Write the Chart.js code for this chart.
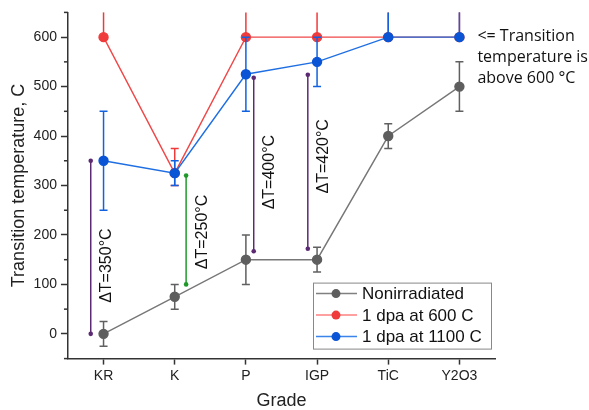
<!DOCTYPE html>
<html>
<head>
<meta charset="utf-8">
<script src="https://cdn.jsdelivr.net/npm/chart.js@4.4.0/dist/chart.umd.min.js"></script>
<style>
html, body { margin: 0; padding: 0; background: #fff; }
#wrap { width: 589px; height: 410px; }
</style>
</head>
<body>
<div id="wrap"><canvas id="chart"></canvas></div>
<script>
const grades = ['KR', 'K', 'P', 'IGP', 'TiC', 'Y2O3'];

const nonirr = [0, 75, 150, 150, 400, 500];
const nonirrErr = [25, 25, 50, 25, 25, 50];

// Infinity = transition temperature above the plotted range (open bar)
const dpa600 = [600, 325, 600, 600, 600, 600];
const dpa600Up = [Infinity, 50, Infinity, Infinity, Infinity, Infinity];
const dpa600Down = [0, 25, 0, 0, 0, 0];

const dpa1100 = [350, 325, 525, 550, 600, 600];
const dpa1100Up = [100, 25, 75, 50, Infinity, Infinity];
const dpa1100Down = [100, 25, 75, 50, 0, 0];

const yTicks = [0, 100, 200, 300, 400, 500, 600];

// delta T markers
const dtX = [-0.18, 1.16, 2.11, 2.87];
const dtFrom = [0, 100, 167, 172];
const dtTo = [350, 320, 518, 524];
const dtLabelY = [138, 206, 327, 359];
const dtLabels = ['\u0394T=350\u00B0C', '\u0394T=250\u00B0C', '\u0394T=400\u00B0C', '\u0394T=420\u00B0C'];
const dtColors = ['#5b2a72', '#1f9a2a', '#5b2a72', '#5b2a72'];

const noteLines = ['<= Transition', 'temperature is', 'above 600 \u00B0C'];

const toPoints = vals => vals.map((v, i) => ({ x: i, y: v }));

const errorBars = {
    id: 'errorBars',
    beforeDatasetDraw(chart, args) {
        const ds = chart.data.datasets[args.index];
        if (!ds.errUp) return;
        const ctx = chart.ctx;
        const area = chart.chartArea;
        const xs = chart.scales.x, ys = chart.scales.y;
        ctx.save();
        ctx.strokeStyle = ds.errColor;
        ctx.lineWidth = 1.5;
        ds.data.forEach((p, i) => {
            const x = xs.getPixelForValue(p.x);
            const up = ds.errUp[i], dn = ds.errDown[i];
            const yTop = isFinite(up) ? ys.getPixelForValue(p.y + up) : area.top;
            const yBot = ys.getPixelForValue(p.y - dn);
            ctx.beginPath();
            ctx.moveTo(x, yTop);
            ctx.lineTo(x, yBot);
            if (isFinite(up) && up > 0) {
                ctx.moveTo(x - 4, yTop);
                ctx.lineTo(x + 4, yTop);
            }
            if (dn > 0) {
                ctx.moveTo(x - 4, yBot);
                ctx.lineTo(x + 4, yBot);
            }
            ctx.stroke();
        });
        ctx.restore();
    }
};

const extras = {
    id: 'extras',
    afterDraw(chart) {
        const ctx = chart.ctx;
        const area = chart.chartArea;
        const xs = chart.scales.x, ys = chart.scales.y;
        ctx.save();

        // minor ticks on y axis
        ctx.strokeStyle = '#333';
        ctx.lineWidth = 1.5;
        for (let v = -50; v <= 650; v += 100) {
            const y = ys.getPixelForValue(v);
            ctx.beginPath();
            ctx.moveTo(area.left - 4, y);
            ctx.lineTo(area.left, y);
            ctx.stroke();
        }

        // delta T arrows
        dtX.forEach((xv, i) => {
            const x = xs.getPixelForValue(xv);
            const y1 = ys.getPixelForValue(dtFrom[i]);
            const y2 = ys.getPixelForValue(dtTo[i]);
            ctx.strokeStyle = dtColors[i];
            ctx.fillStyle = dtColors[i];
            ctx.lineWidth = 1.5;
            ctx.beginPath();
            ctx.moveTo(x, y1);
            ctx.lineTo(x, y2);
            ctx.stroke();
            [y1, y2].forEach(y => {
                ctx.beginPath();
                ctx.arc(x, y, 2.3, 0, Math.PI * 2);
                ctx.fill();
            });
            ctx.save();
            ctx.translate(x + 16, ys.getPixelForValue(dtLabelY[i]));
            ctx.rotate(-Math.PI / 2);
            ctx.fillStyle = '#111';
            ctx.font = '16px "Liberation Sans"';
            ctx.textAlign = 'center';
            ctx.textBaseline = 'middle';
            ctx.fillText(dtLabels[i], 0, 0);
            ctx.restore();
        });

        // note to the right of the top points
        ctx.fillStyle = '#111';
        ctx.font = '16px "Open Sans"';
        ctx.textAlign = 'left';
        ctx.textBaseline = 'middle';
        const nx = xs.getPixelForValue(5) + 18;
        const ny = ys.getPixelForValue(600) - 1;
        noteLines.forEach((t, i) => ctx.fillText(t, nx, ny + i * 21));

        // legend box
        const bw = 178, bh = 66;
        const bx = area.right - 182, by = area.bottom - 76;
        ctx.fillStyle = '#fff';
        ctx.fillRect(bx, by, bw, bh);
        ctx.strokeStyle = '#888';
        ctx.lineWidth = 1;
        ctx.strokeRect(bx + 0.5, by + 0.5, bw, bh);
        chart.data.datasets.forEach((ds, i) => {
            const y = by + 11 + i * 21.5;
            ctx.strokeStyle = ds.legendLine;
            ctx.lineWidth = 1.5;
            ctx.beginPath();
            ctx.moveTo(bx + 3, y);
            ctx.lineTo(bx + 44, y);
            ctx.stroke();
            ctx.fillStyle = ds.pointBackgroundColor;
            ctx.beginPath();
            ctx.arc(bx + 23, y, 4.5, 0, Math.PI * 2);
            ctx.fill();
            ctx.fillStyle = '#111';
            ctx.font = '17px "Liberation Sans"';
            ctx.fillText(ds.label, bx + 49, y + 1);
        });
        ctx.restore();
    }
};

const axisFont = { family: 'Liberation Sans', size: 14 };

new Chart(document.getElementById('chart'), {
    type: 'line',
    data: {
        datasets: [{
            label: 'Nonirradiated',
            data: toPoints(nonirr),
            errUp: nonirrErr,
            errDown: nonirrErr,
            errColor: '#606060',
            legendLine: '#808080',
            borderColor: '#777777',
            pointBackgroundColor: '#5e5e5e',
            pointBorderColor: '#5e5e5e',
            borderWidth: 1.4,
            pointRadius: 4.5,
            order: 2
        }, {
            label: '1 dpa at 600 C',
            data: toPoints(dpa600),
            errUp: dpa600Up,
            errDown: dpa600Down,
            errColor: '#f03a3a',
            legendLine: '#ff8080',
            borderColor: '#f04848',
            pointBackgroundColor: '#ef3b3b',
            pointBorderColor: '#ef3b3b',
            borderWidth: 1.4,
            pointRadius: 4.5,
            order: 1
        }, {
            label: '1 dpa at 1100 C',
            data: toPoints(dpa1100),
            errUp: dpa1100Up,
            errDown: dpa1100Down,
            errColor: '#1262e0',
            legendLine: '#3a84ea',
            borderColor: '#1f6fe2',
            pointBackgroundColor: '#0a55d6',
            pointBorderColor: '#0a55d6',
            borderWidth: 1.4,
            pointRadius: 4.5,
            order: 0
        }]
    },
    options: {
        responsive: true,
        maintainAspectRatio: false,
        animation: false,
        layout: { padding: { top: 12, right: 94, left: 8, bottom: 0 } },
        plugins: {
            legend: { display: false },
            tooltip: { enabled: false }
        },
        scales: {
            x: {
                type: 'linear',
                min: -0.5,
                max: 5.5,
                afterBuildTicks: s => { s.ticks = grades.map((g, i) => ({ value: i })); },
                ticks: {
                    callback: v => grades[v],
                    font: axisFont,
                    color: '#222',
                    autoSkip: false,
                    maxRotation: 0,
                    padding: 3
                },
                grid: { drawOnChartArea: false, tickLength: 6, tickColor: '#333', tickWidth: 1.5 },
                border: { color: '#333', width: 1.5 },
                title: {
                    display: true,
                    text: 'Grade',
                    font: { family: 'Liberation Sans', size: 18 },
                    color: '#222',
                    padding: { top: 3, bottom: -2 }
                }
            },
            y: {
                min: -50,
                max: 650,
                afterBuildTicks: s => { s.ticks = yTicks.map(v => ({ value: v })); },
                ticks: { font: axisFont, color: '#222', padding: 4 },
                grid: { drawOnChartArea: false, tickLength: 7, tickColor: '#333', tickWidth: 1.5 },
                border: { color: '#333', width: 1.5 },
                title: {
                    display: true,
                    text: 'Transition temperature, C',
                    font: { family: 'Liberation Sans', size: 18 },
                    color: '#222',
                    padding: { top: 0, bottom: 0 }
                }
            }
        }
    },
    plugins: [errorBars, extras]
});
</script>
</body>
</html>
